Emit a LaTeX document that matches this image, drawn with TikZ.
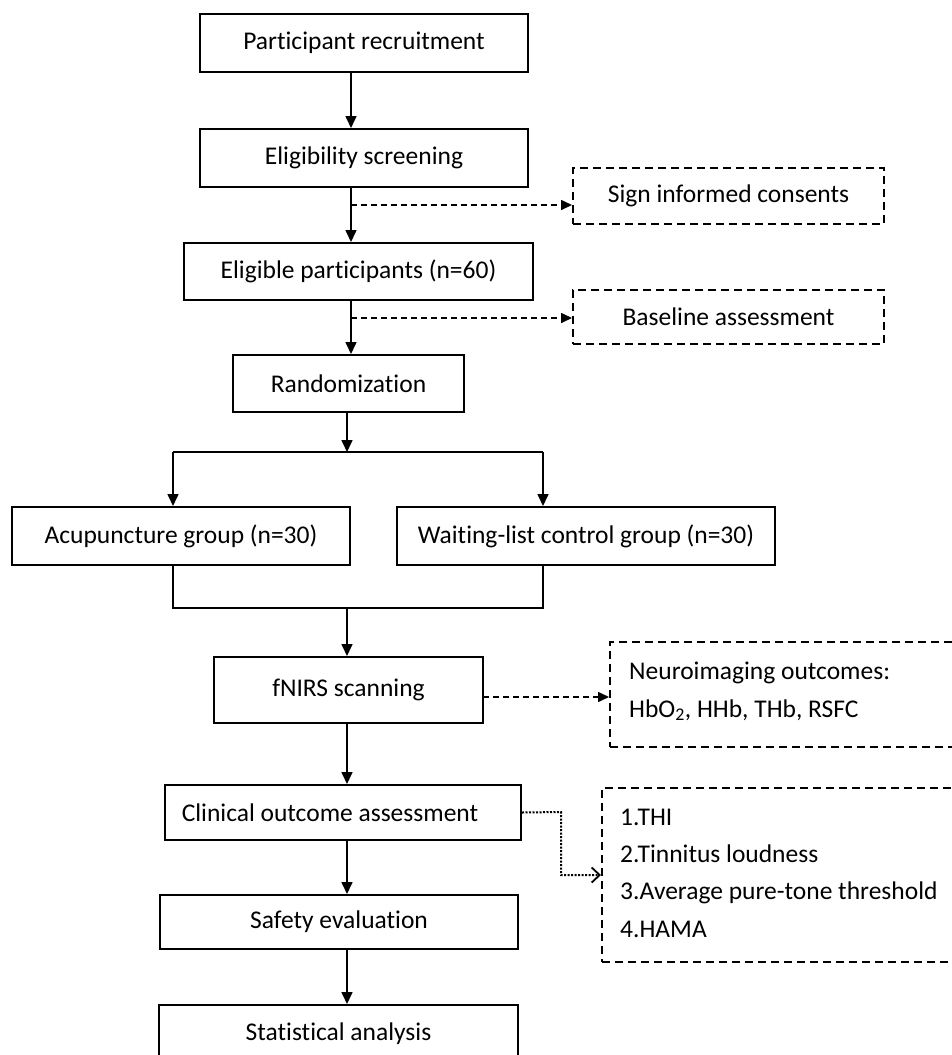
\documentclass[tikz,border=0pt]{standalone}
\usepackage{fontspec}
\setmainfont{Carlito}[Ligatures=NoCommon]
\usetikzlibrary{arrows.meta}
\tikzset{
  box/.style={draw, line width=2pt, inner sep=0pt, font=\fontsize{25.5}{37}\selectfont},
  dbox/.style={draw, line width=2pt, dash pattern=on 8pt off 5pt, inner sep=0pt},
  txt/.style={inner sep=0pt, anchor=base west, align=left, font=\fontsize{25.5}{37.3}\selectfont},
  arr/.style={line width=1.6pt, -{Triangle[length=12pt,width=11pt]}},
  plain/.style={line width=1.6pt},
  darr/.style={line width=1.6pt, dash pattern=on 6pt off 4pt, -{Triangle[length=11pt,width=10pt]}},
  dotarr/.style={line width=2pt, dash pattern=on 2pt off 1.5pt, -{Straight Barb[length=8pt,width=15pt,line width=1.8pt]}},
}
\begin{document}
\begin{tikzpicture}[x=1pt,y=-1pt]
\useasboundingbox (0,0) rectangle (951,1055);
\coordinate (spA) at (351,0);
\coordinate (spB) at (347,0);
% main column
\node[box, minimum width=328pt, minimum height=58pt] (b1) at (364,43) {Participant recruitment};
\node[box, minimum width=328pt, minimum height=58pt] (b2) at (364,158) {Eligibility screening};
\node[box, minimum width=349pt, minimum height=57pt] (b3) at (358.5,271.5) {Eligible participants (n=60)};
\node[box, minimum width=231pt, minimum height=57pt] (b4) at (348.5,383.5) {Randomization};
\node[box, minimum width=338pt, minimum height=58pt] (acu) at (181,536) {Acupuncture group (n=30)};
\node[box, minimum width=378pt, minimum height=58pt] (wait) at (586,536) {Waiting-list control group (n=30)};
\node[box, minimum width=269pt, minimum height=66pt] (fn) at (348.5,690) {fNIRS scanning};
\node[box, minimum width=356pt, minimum height=55pt] (clin) at (343,812.5) {\hspace*{-26pt}Clinical outcome assessment};
\node[box, minimum width=358pt, minimum height=54pt] (safe) at (339,922) {Safety evaluation};
\node[box, minimum width=359pt, minimum height=57pt] (stat) at (338.5,1033.5) {Statistical analysis};
% side boxes
\node[dbox, font=\fontsize{25.5}{37}\selectfont, minimum width=311pt, minimum height=56pt] (sign) at (728.5,196) {Sign informed consents};
\node[dbox, font=\fontsize{25.5}{37}\selectfont, minimum width=311pt, minimum height=54pt] (base) at (728.5,317) {Baseline assessment};
\node[dbox, minimum width=346pt, minimum height=105pt] (neuro) at (783,694.5) {};
\node[txt] (neuroT) at (629,717) {Neuroimaging outcomes:\\HbO\textsubscript{2}, HHb, THb, RSFC};
\node[dbox, minimum width=354pt, minimum height=174pt] (outc) at (779,875) {};
\node[txt] (outcT) at (620,937) {1.THI\\2.Tinnitus loudness\\3.Average pure-tone threshold\\4.HAMA};
% connectors
\draw[arr] (b1.south -| spA) -- (b2.north -| spA);
\draw[arr] (b2.south -| spA) -- (b3.north -| spA);
\draw[arr] (b3.south -| spA) -- (b4.north -| spA);
\coordinate (d1) at (351,205);
\coordinate (d2) at (351,318);
\draw[darr] (d1) -- (d1 -| sign.west);
\draw[darr] (d2) -- (d2 -| base.west);
\coordinate (split) at (347,452);
\coordinate (sl) at (173,452);
\coordinate (sr) at (543,452);
\draw[arr] (b4.south -| spB) -- (split);
\draw[plain] (sl) -- (sr);
\draw[arr] (sl) -- (sl |- acu.north);
\draw[arr] (sr) -- (sr |- wait.north);
\coordinate (jl) at (173,608);
\coordinate (jr) at (543,608);
\coordinate (jm) at (347,608);
\draw[plain] (acu.south -| jl) -- (jl) -- (jr) -- (wait.south -| jr);
\draw[arr] (jm) -- (fn.north -| jm);
\coordinate (d3) at (483,697);
\draw[darr] (d3) -- (d3 -| neuro.west);
\draw[arr] (fn.south -| spB) -- (clin.north -| spB);
\coordinate (e1) at (561,812);
\coordinate (e2) at (561,875);
\draw[dotarr] (clin.east) -- (e1) -- (e2) -- (e2 -| outc.west);
\draw[arr] (clin.south -| spB) -- (safe.north -| spB);
\draw[arr] (safe.south -| spB) -- (stat.north -| spB);
\end{tikzpicture}
\end{document}
